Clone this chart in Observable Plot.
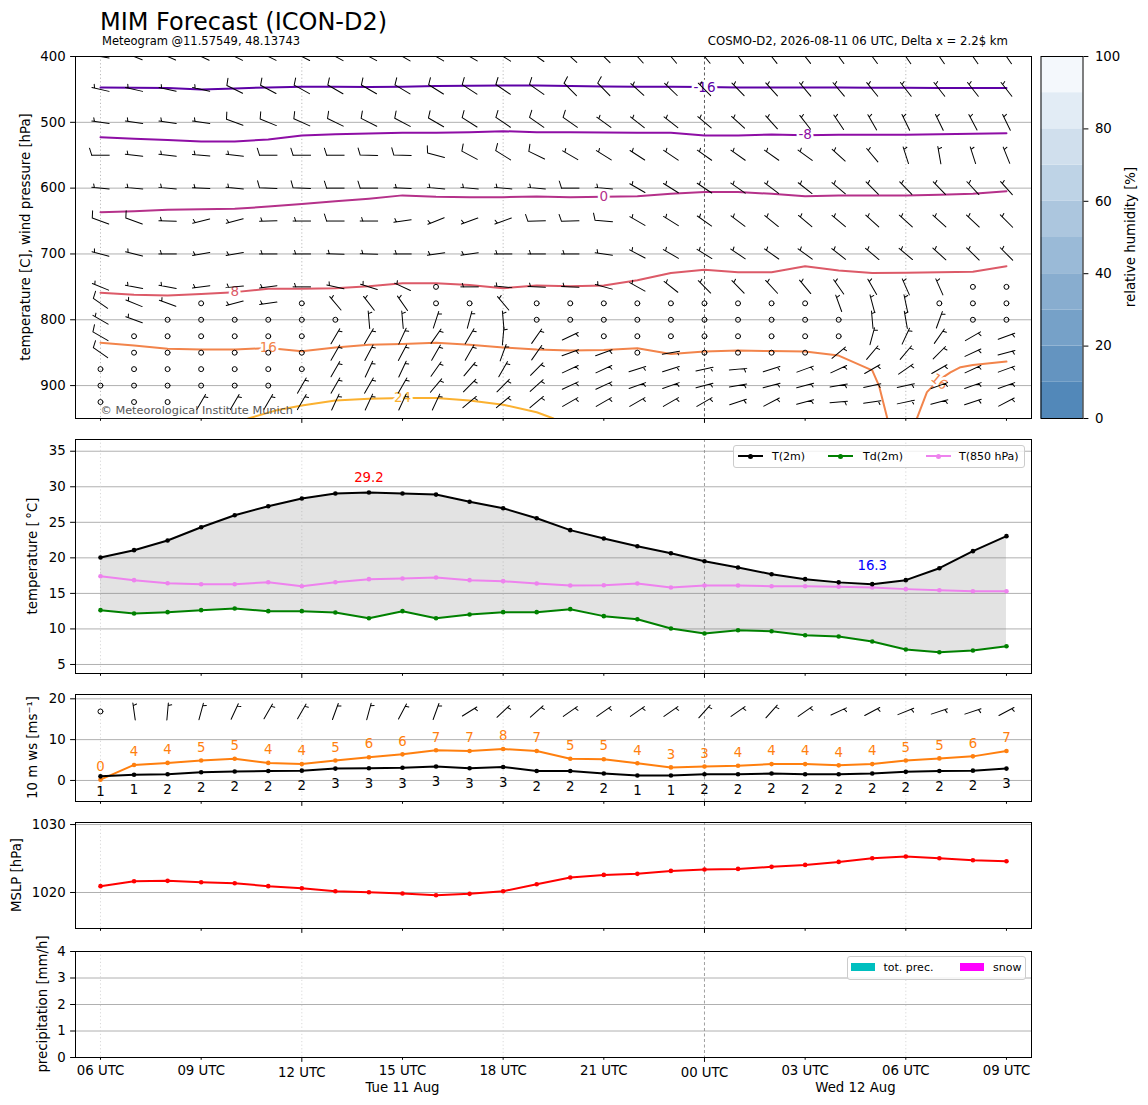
<!DOCTYPE html>
<html>
<head>
<meta charset="utf-8">
<script src="https://cdn.jsdelivr.net/npm/d3@7"></script>
<script src="https://cdn.jsdelivr.net/npm/@observablehq/plot@0.6"></script>
<style>
  body { margin: 0; background: #fff; font-family: "DejaVu Sans", sans-serif; }
  #root { position: relative; width: 1148px; height: 1105px; overflow: hidden; background: #fff; }
  .lg { position: absolute; box-sizing: border-box; border: 1px solid #cccccc; border-radius: 3px; background: rgba(255,255,255,0.8); font-family: "DejaVu Sans", sans-serif; font-size: 11px; color: #000; }
  .lg .ln { position: absolute; height: 2px; width: 25px; }
  .lg .dt { position: absolute; width: 5px; height: 5px; border-radius: 50%; }
  .lg .tx { position: absolute; white-space: nowrap; }
  .lg .pt { position: absolute; width: 24px; height: 8px; }
</style>
</head>
<body>
<div id="root"></div>
<script>
// ---------------- DATA ----------------
const hours = d3.range(28); // hourly steps from Tue 11 Aug 06 UTC
const tickHours = [0, 3, 6, 9, 12, 15, 18, 21, 24, 27];
const tickLabels = ["06 UTC", "09 UTC", "12 UTC", "15 UTC", "18 UTC", "21 UTC", "00 UTC", "03 UTC", "06 UTC", "09 UTC"];
const minorTickHours = [0, 3, 9, 12, 15, 21, 24, 27];
const majorTickHours = [6, 18];
const gridHours = [0, 6, 12, 24];
const midnightHour = [18];
const dateHours = [9, 22.5];
const dateLabels = ["Tue 11 Aug", "Wed 12 Aug"];

// pressure levels of wind barbs [hPa]
const levels = [400, 450, 500, 550, 600, 650, 700, 750, 775, 800, 825, 850, 875, 900, 925];
// wind direction [deg, from] and speed (barb units) per level
const dir400 = [280,292,294,295,296,296,297,298,298,300,300,300,302,305,312,315,318,320,320,322,322,322,324,324,325,325,325,325];
const spd400 = [5,10,10,10,10,10,10,10,10,10,10,10,10,10,10,10,5,5,5,5,5,5,5,5,5,5,5,5];
const dir450 = [283,283,282,282,296,298,299,300,300,301,302,303,304,305,315,316,312,314,315,316,318,320,320,321,322,322,322,322];
const spd450 = [5,5,5,5,10,10,10,10,10,10,10,10,10,10,10,10,5,5,5,5,5,5,5,5,5,5,5,5];
const dir500 = [278,278,278,278,290,292,294,296,297,298,300,302,304,305,305,306,308,308,310,312,318,322,326,330,334,334,332,334];
const spd500 = [5,5,5,5,10,10,10,10,10,10,10,10,10,10,10,5,5,5,5,5,5,5,5,5,5,5,5,5];
const dir550 = [270,276,276,275,276,270,270,270,271,272,285,298,302,296,300,302,303,304,305,305,305,306,312,320,342,350,342,338];
const spd550 = [10,5,5,5,5,10,10,10,10,10,10,10,10,10,5,5,5,5,5,5,5,5,5,5,5,5,5,5];
const dir600 = [276,275,275,272,276,272,272,270,270,272,275,275,275,275,270,275,300,302,304,305,307,308,310,315,316,316,317,318];
const spd600 = [5,5,5,5,5,10,10,10,10,5,5,5,5,5,10,5,5,5,5,5,5,5,5,5,5,5,5,5];
const dir650 = [290,290,272,256,255,268,270,270,270,262,248,250,250,268,268,275,300,302,305,307,309,310,310,312,312,312,313,315];
const spd650 = [10,10,5,5,5,5,5,10,5,5,5,5,5,10,10,10,5,5,5,5,5,5,5,5,5,5,5,5];
const dir700 = [285,284,270,260,260,270,270,272,272,270,262,262,270,270,270,278,298,300,302,304,305,306,308,310,310,312,314,315];
const spd700 = [5,5,5,5,5,5,5,5,5,5,5,5,5,5,5,5,5,5,5,5,5,5,5,5,5,5,5,5];
const dir750 = [292,280,280,262,265,262,270,283,288,295,0,270,275,272,272,285,299,308,315,316,317,320,325,330,336,336,0,0];
const spd750 = [5,5,5,5,5,5,5,5,5,5,0,5,5,5,5,5,5,5,5,5,5,5,5,5,5,5,0,0];
const dir775 = [305,292,290,0,255,262,0,320,322,325,0,0,320,0,0,0,0,0,0,0,0,0,340,345,348,0,0,0];
const spd775 = [10,5,5,0,5,5,0,5,5,5,0,0,5,0,0,0,0,0,0,0,0,0,5,5,5,0,0,0];
const dir800 = [300,290,0,0,0,0,0,0,355,355,18,15,355,0,0,0,0,0,0,0,0,0,0,355,350,20,0,0];
const spd800 = [5,5,0,0,0,0,0,0,5,5,5,5,5,0,0,0,0,0,0,0,0,0,0,5,5,5,0,0];
const dir825 = [300,0,0,0,0,0,0,30,30,25,35,30,5,35,65,0,0,0,0,0,0,0,0,15,25,35,60,70];
const spd825 = [10,0,0,0,0,0,0,5,5,5,5,5,5,5,5,0,0,0,0,0,0,0,0,5,5,5,5,5];
const dir850 = [305,0,0,0,0,0,0,30,28,28,30,30,20,35,70,70,0,80,0,0,0,0,50,40,40,45,65,75];
const spd850 = [10,0,0,0,0,0,0,5,5,5,5,5,5,5,5,5,0,5,0,0,0,0,5,5,5,5,5,5];
const dir875 = [0,0,0,0,0,0,0,30,25,25,35,40,30,45,65,65,72,72,78,85,72,70,65,60,55,60,65,70];
const spd875 = [0,0,0,0,0,0,0,5,5,5,5,5,5,5,5,5,5,5,5,5,5,5,5,5,5,5,5,5];
const dir900 = [0,0,0,0,0,0,30,30,30,30,40,45,45,48,65,65,70,70,75,80,75,75,80,78,78,70,70,70];
const spd900 = [0,0,0,0,0,0,5,5,5,5,5,5,5,5,5,5,5,5,5,5,5,5,5,5,5,5,5,5];
const dir925 = [0,0,0,30,30,30,30,25,25,25,25,50,50,50,60,60,60,60,60,72,62,75,85,82,78,75,72,62];
const spd925 = [0,0,0,5,5,5,5,5,5,5,5,5,5,5,5,5,5,5,5,5,5,5,5,5,5,5,5,5];

// isotherm contour lines [hPa]
const isoLevels = [-16, -8, 0, 8, 16, 24];
const isoColors = ["#5d01a6", "#8e0ea5", "#b5318a", "#dc5a68", "#f2844b", "#fbb130"];
const isoM16 = [447,447.5,448,450,448.5,447,446,446,446.5,446,445,444.5,444,444,445,445.5,446,446,446.5,447,447,447,447,447.5,447.5,448,448,448];
const isoM8 = [522.6,525,527,529,529,526,520,518,517,516,516,515,513.5,515,515,515.5,516,516,520,520,518.6,519.5,519,519,519,518,517.5,516.5];
const iso0 = [636.6,635,633,632,631.5,628,624,620,616,611,613,613.8,613.8,612.8,613.8,613,612.3,608.7,606,606,608.7,612.3,611,611,611,610,608.7,604.6];
const iso8 = [759,762,763,760.7,758,753,753,752,749,744.5,744.5,747,752,748,749,748,740,728.8,724,727.7,727.7,718.7,725,729,728.5,727.7,727,718.7];
const iso16aHours = [0,1,2,3,4,5,6,7,8,9,10,11,12,13,14,15,16,17,18,19,20,21,22,23,23.2,23.45];
const iso16a = [835,839,844,845,845,843,848,842,838,836.7,835,838,842,845,846.8,845.8,843.3,852,848.3,846.8,847.6,848.3,854.4,877,900,950];
const iso16bHours = [24.33, 24.63, 24.97, 25.33, 25.63, 26, 27];
const iso16b = [950, 910, 892, 880, 872, 868.6, 863.5];
const iso24Hours = [4.4, 5.21, 6, 7, 8, 9, 10, 11, 12, 13, 13.5];
const iso24 = [950, 938, 930.4, 922.8, 920, 918.7, 919, 922.8, 929, 940.5, 950];
const isoLabelLevel = [-16, -8, 0, 8, 16, 24, 16];
const isoLabelHour = [18, 21, 15, 4, 5, 9, 25];
const isoLabelP = [447, 519.5, 613, 758, 843, 918.7, 894];
const isoLabelRot = [0, 0, 0, 0, 0, 0, 40];

// relative humidity colour bar
const rhEdges = [0, 10, 20, 30, 40, 50, 60, 70, 80, 90, 100];
const rhTicks = [0, 20, 40, 60, 80, 100];

// 2 m temperature, dew point, 850 hPa temperature [°C]
const t2m = [20.05,21.08,22.44,24.3,26.0,27.26,28.35,29.05,29.19,29.05,28.9,27.9,26.98,25.58,23.9,22.72,21.64,20.65,19.53,18.64,17.7,17.0,16.55,16.3,16.86,18.54,20.94,23.05];
const td2m = [12.64,12.17,12.36,12.64,12.88,12.5,12.5,12.31,11.5,12.5,11.5,12.03,12.36,12.36,12.78,11.8,11.37,10.06,9.36,9.82,9.68,9.12,8.94,8.24,7.1,6.73,6.96,7.57];
const t850 = [17.42,16.86,16.43,16.29,16.29,16.57,16.0,16.57,17.0,17.1,17.24,16.86,16.72,16.39,16.1,16.15,16.39,15.83,16.1,16.1,16.0,16.0,15.95,15.83,15.6,15.45,15.3,15.3];

// 10 m wind: mean, gust [m/s], barbs
const wsMean = [1.0,1.4,1.5,2.0,2.2,2.3,2.4,2.9,3.0,3.1,3.4,3.0,3.3,2.3,2.3,1.7,1.2,1.2,1.5,1.5,1.7,1.5,1.5,1.7,2.1,2.3,2.4,2.9];
const wsGust = [0.2,3.8,4.3,4.9,5.3,4.3,4.0,4.9,5.7,6.4,7.4,7.2,7.7,7.2,5.3,5.2,4.2,3.2,3.4,3.6,4.0,4.0,3.7,4.0,4.9,5.4,5.9,7.2];
const dir10m = [0,352,5,15,25,30,30,20,15,28,20,58,47,48,55,55,55,55,42,55,42,55,65,62,68,72,72,62];
const spd10m = [0,5,5,5,5,5,5,5,5,5,5,5,5,5,5,5,5,5,5,5,5,5,5,5,5,5,5,5];

// mean sea level pressure [hPa]
const mslp = [1020.93,1021.66,1021.71,1021.51,1021.37,1020.93,1020.63,1020.19,1020.04,1019.85,1019.6,1019.8,1020.19,1021.22,1022.2,1022.59,1022.74,1023.18,1023.38,1023.47,1023.77,1024.06,1024.5,1025.04,1025.29,1025.04,1024.75,1024.6];

// precipitation [mm/h]
const totPrec = [0,0,0,0,0,0,0,0,0,0,0,0,0,0,0,0,0,0,0,0,0,0,0,0,0,0,0,0];
const snowPrec = [0,0,0,0,0,0,0,0,0,0,0,0,0,0,0,0,0,0,0,0,0,0,0,0,0,0,0,0];

// ---------------- TABLES ----------------
const dirs = [dir400,dir450,dir500,dir550,dir600,dir650,dir700,dir750,dir775,dir800,dir825,dir850,dir875,dir900,dir925];
const spds = [spd400,spd450,spd500,spd550,spd600,spd650,spd700,spd750,spd775,spd800,spd825,spd850,spd875,spd900,spd925];
const windRows = levels.flatMap((p, li) => hours.map(h => ({h, p, dir: dirs[li][h], spd: spds[li][h]})));
const isoSegments = [
  {level: -16, hs: hours, ps: isoM16},
  {level: -8, hs: hours, ps: isoM8},
  {level: 0, hs: hours, ps: iso0},
  {level: 8, hs: hours, ps: iso8},
  {level: 16, hs: iso16aHours, ps: iso16a},
  {level: 16, hs: iso16bHours, ps: iso16b},
  {level: 24, hs: iso24Hours, ps: iso24}
];
const isoLabels = isoLabelLevel.map((lv, i) => ({level: lv, h: isoLabelHour[i], p: isoLabelP[i], rot: isoLabelRot[i]}));
const tRows = hours.map(h => ({h, t: t2m[h], td: td2m[h], t850: t850[h]}));
const wsRows = hours.map(h => ({h, mean: wsMean[h], gust: wsGust[h], dir: dir10m[h], spd: spd10m[h]}));
const pRows = hours.map(h => ({h, p: mslp[h]}));
const precRows = hours.map(h => ({h, tot: totPrec[h], snow: snowPrec[h]}));
const rhBands = rhEdges.slice(0, -1).map((lo, i) => ({lo, hi: rhEdges[i + 1], mid: (lo + rhEdges[i + 1]) / 2}));

// ---------------- HELPERS ----------------
const FONT = "DejaVu Sans, sans-serif";
const FS = 13.3;
const X_DOMAIN = [-0.745, 27.746];
const BARB_Y = 16.9;
const ORANGE = "#ff7f0e";
const root = document.getElementById("root");
const colorOf = lv => isoColors[isoLevels.indexOf(lv)];
const plain = d => String(d);

function barbShape(S, F, T, SP, R) {
  return {
    draw(ctx, l) {
      if (l < 2.5) { ctx.moveTo(R, 0); ctx.arc(0, 0, R, 0, 2 * Math.PI); return; }
      const v = Math.round(l / 5) * 5;
      const nFull = Math.floor(v / 10);
      const half = v - nFull * 10 >= 5;
      ctx.moveTo(0, S / 2); ctx.lineTo(0, -S / 2);
      let y = -S / 2;
      for (let i = 0; i < nFull; i++) { ctx.moveTo(0, y); ctx.lineTo(F, y - T); y += SP; }
      if (half) { if (nFull === 0) y += SP; ctx.moveTo(0, y); ctx.lineTo(F / 2, y - T / 2); }
    }
  };
}

function xAxes(withLabels) {
  const fmt = withLabels ? (h => tickLabels[tickHours.indexOf(h)]) : (() => "");
  return [
    Plot.axisX({ticks: minorTickHours, tickSize: 2.8, tickPadding: 5.5, tickFormat: fmt, label: null}),
    Plot.axisX({ticks: majorTickHours, tickSize: 4.9, tickPadding: 5.5, tickFormat: fmt, label: null})
  ];
}
function vRules(light, mid) {
  return [
    Plot.ruleX(gridHours, {stroke: light, strokeDasharray: "1.2,2.4", strokeWidth: 0.8}),
    Plot.ruleX(midnightHour, {stroke: mid, strokeDasharray: "3,2.5", strokeWidth: 0.8})
  ];
}
function yAxis(ticks) {
  return Plot.axisY({ticks, tickSize: 4.9, tickPadding: 4.9, tickFormat: plain, label: null});
}
function addPanel(top, h, mt, mb, yOpts, marks, extra = {}) {
  const svg = Plot.plot({
    width: 1148, height: h + mt + mb,
    marginLeft: 75, marginRight: 117, marginTop: mt, marginBottom: mb,
    x: {domain: X_DOMAIN},
    y: yOpts,
    style: {fontFamily: FONT, fontSize: FS + "px", background: "transparent", overflow: "visible", color: "black"},
    marks,
    ...extra
  });
  Object.assign(svg.style, {position: "absolute", left: "0px", top: (top - mt) + "px"});
  root.appendChild(svg);
}

// ---------------- PANEL 1: upper air ----------------
addPanel(56, 362, 10, 12, {domain: [950, 400]}, [
  Plot.ruleY([500, 600, 700, 800, 900], {stroke: "#b0b0b0", strokeWidth: 1}),
  ...vRules("#a8a8a8", "#333333"),
  ...isoSegments.map(s => Plot.line(s.hs.map((hh, i) => ({h: hh, p: s.ps[i]})), {x: "h", y: "p", stroke: colorOf(s.level), strokeWidth: 2, clip: true})),
  ...isoLabels.map(l => Plot.text([l], {x: "h", y: "p", text: d => String(d.level), rotate: l.rot, fill: colorOf(l.level), stroke: "white", strokeWidth: 5, paintOrder: "stroke", fontSize: 13.5})),
  Plot.vector(windRows, {x: "h", y: "p", rotate: "dir", length: "spd", anchor: "start", shape: barbShape(17.5, 7, 2.2, 2.6, 2.5), stroke: "black", strokeWidth: 1, clip: true}),
  Plot.text(["© Meteorological Institute Munich"], {text: d => d, frameAnchor: "bottom-left", dx: 25, dy: -8.5, lineAnchor: "middle", textAnchor: "start", fill: "#555", fontSize: 11.3}),
  yAxis([400, 500, 600, 700, 800, 900]),
  ...xAxes(false),
  Plot.frame({stroke: "black", strokeWidth: 1})
], {length: {type: "identity"}});

// colour bar
(function () {
  const svg = Plot.plot({
    width: 1148, height: 362 + 20,
    marginLeft: 1040.5, marginRight: 65.5, marginTop: 10, marginBottom: 10,
    y: {domain: [0, 100]},
    color: {type: "linear", domain: [5, 95], range: ["#5288b9", "#f4f8fc"]},
    style: {fontFamily: FONT, fontSize: FS + "px", background: "transparent", overflow: "visible", color: "black"},
    marks: [
      Plot.rect(rhBands, {y1: "lo", y2: "hi", fill: "mid"}),
      Plot.axisY({anchor: "right", ticks: rhTicks, tickSize: 4.9, tickPadding: 7, tickFormat: plain, label: null}),
      Plot.frame({stroke: "black", strokeWidth: 1})
    ]
  });
  Object.assign(svg.style, {position: "absolute", left: "0px", top: (56 - 10) + "px"});
  root.appendChild(svg);
})();

// ---------------- PANEL 2: temperatures ----------------
const tMax = d3.greatest(tRows, d => d.t);
const tMin = d3.least(tRows, d => d.t);
addPanel(439, 234, 10, 10, {domain: [3.73, 36.65]}, [
  Plot.ruleY([5, 10, 15, 20, 25, 30, 35], {stroke: "#b0b0b0", strokeWidth: 1}),
  ...vRules("#cfcfcf", "#888888"),
  Plot.areaY(tRows, {x: "h", y1: "td", y2: "t", fill: "#808080", fillOpacity: 0.22}),
  Plot.line(tRows, {x: "h", y: "t850", stroke: "violet", strokeWidth: 2}),
  Plot.dot(tRows, {x: "h", y: "t850", r: 2.3, fill: "violet"}),
  Plot.line(tRows, {x: "h", y: "td", stroke: "green", strokeWidth: 2}),
  Plot.dot(tRows, {x: "h", y: "td", r: 2.3, fill: "green"}),
  Plot.line(tRows, {x: "h", y: "t", stroke: "black", strokeWidth: 2}),
  Plot.dot(tRows, {x: "h", y: "t", r: 2.3, fill: "black"}),
  Plot.text([tMax], {x: "h", y: "t", text: d => d.t.toFixed(1), fill: "red", dy: -15, fontSize: FS}),
  Plot.text([tMin], {x: "h", y: "t", text: d => d.t.toFixed(1), fill: "blue", dy: -18, fontSize: FS}),
  yAxis([5, 10, 15, 20, 25, 30, 35]),
  ...xAxes(false),
  Plot.frame({stroke: "black", strokeWidth: 1})
]);

// ---------------- PANEL 3: 10 m wind ----------------
addPanel(694, 107, 10, 10, {domain: [-5.16, 21.06]}, [
  Plot.ruleY([0, 10, 20], {stroke: "#b0b0b0", strokeWidth: 1}),
  ...vRules("#cfcfcf", "#888888"),
  Plot.line(wsRows, {x: "h", y: "gust", stroke: ORANGE, strokeWidth: 2}),
  Plot.dot(wsRows, {x: "h", y: "gust", r: 2.3, fill: ORANGE}),
  Plot.line(wsRows, {x: "h", y: "mean", stroke: "black", strokeWidth: 2}),
  Plot.dot(wsRows, {x: "h", y: "mean", r: 2.3, fill: "black"}),
  Plot.text(wsRows, {x: "h", y: "gust", text: d => String(Math.round(d.gust)), dy: -13, fill: ORANGE, fontSize: FS}),
  Plot.text(wsRows, {x: "h", y: "mean", text: d => String(Math.round(d.mean)), dy: 15.5, fill: "black", fontSize: FS}),
  Plot.vector(wsRows, {x: "h", y: () => BARB_Y, rotate: "dir", length: "spd", anchor: "start", shape: barbShape(17, 7, 2.2, 2.6, 2.5), stroke: "black", strokeWidth: 1}),
  yAxis([0, 10, 20]),
  ...xAxes(false),
  Plot.frame({stroke: "black", strokeWidth: 1})
], {length: {type: "identity"}});

// ---------------- PANEL 4: MSLP ----------------
addPanel(822, 106, 10, 10, {domain: [1014.7, 1030.3]}, [
  Plot.ruleY([1020, 1030], {stroke: "#b0b0b0", strokeWidth: 1}),
  ...vRules("#cfcfcf", "#888888"),
  Plot.line(pRows, {x: "h", y: "p", stroke: "red", strokeWidth: 2}),
  Plot.dot(pRows, {x: "h", y: "p", r: 2.3, fill: "red"}),
  yAxis([1020, 1030]),
  ...xAxes(false),
  Plot.frame({stroke: "black", strokeWidth: 1})
]);

// ---------------- PANEL 5: precipitation ----------------
addPanel(951, 106, 10, 48, {domain: [0, 4]}, [
  Plot.ruleY([1, 2, 3], {stroke: "#b0b0b0", strokeWidth: 1}),
  ...vRules("#cfcfcf", "#888888"),
  Plot.rectY(precRows, {x1: d => d.h - 0.4, x2: d => d.h + 0.4, y1: 0, y2: "tot", fill: "#00bfbf"}),
  Plot.rectY(precRows, {x1: d => d.h - 0.4, x2: d => d.h + 0.4, y1: 0, y2: "snow", fill: "#ff00ff"}),
  yAxis([0, 1, 2, 3, 4]),
  ...xAxes(true),
  Plot.text(dateHours.map((h, i) => ({h, label: dateLabels[i]})), {x: "h", text: "label", frameAnchor: "bottom", dy: 30, lineAnchor: "middle", fontSize: FS}),
  Plot.frame({stroke: "black", strokeWidth: 1})
]);

// ---------------- LEGENDS ----------------
function addLegend(html, left, top, w, h) {
  const d = document.createElement("div");
  d.className = "lg";
  Object.assign(d.style, {left: left + "px", top: top + "px", width: w + "px", height: h + "px"});
  d.innerHTML = html;
  root.appendChild(d);
}
const tLegend = [["black", "T(2m)", 4, 38], ["green", "Td(2m)", 94, 129], ["violet", "T(850 hPa)", 192, 225]];
addLegend(tLegend.map(([c, t, sx, tx]) =>
  `<div class="ln" style="left:${sx}px;top:9px;background:${c}"></div>` +
  `<div class="dt" style="left:${sx + 10}px;top:7.5px;background:${c}"></div>` +
  `<div class="tx" style="left:${tx}px;top:0;line-height:21px">${t}</div>`).join(""), 733, 445, 292, 23);
const pLegend = [["#00bfbf", "tot. prec.", 3, 35.5], ["#ff00ff", "snow", 111.6, 145]];
addLegend(pLegend.map(([c, t, sx, tx]) =>
  `<div class="pt" style="left:${sx}px;top:6px;background:${c}"></div>` +
  `<div class="tx" style="left:${tx}px;top:0;line-height:21px">${t}</div>`).join(""), 847, 956, 179, 24);

// ---------------- TEXT OVERLAY ----------------
const yTitles = [
  ["temperature [C], wind pressure [hPa]", 25, 237],
  ["temperature [\u2009°C]", 32, 556],
  ["10 m ws [ms⁻¹]", 32, 747.5],
  ["MSLP [hPa]", 16, 875],
  ["precipitation [mm/h]", 42, 1004],
  ["relative humidity [%]", 1130, 237]
];
const ov = document.createElementNS("http://www.w3.org/2000/svg", "svg");
ov.setAttribute("width", 1148); ov.setAttribute("height", 1105);
Object.assign(ov.style, {position: "absolute", left: "0px", top: "0px", fontFamily: FONT, pointerEvents: "none"});
ov.innerHTML =
  `<text x="100" y="29.5" font-size="24">MIM Forecast (ICON-D2)</text>` +
  `<text x="102" y="45" font-size="11.5">Meteogram @11.57549, 48.13743</text>` +
  `<text x="1008" y="44.5" font-size="11.7" text-anchor="end">COSMO-D2, 2026-08-11 06 UTC, Delta x = 2.2$ km</text>` +
  yTitles.map(([t, x, y]) => `<text transform="translate(${x},${y}) rotate(-90)" text-anchor="middle" dominant-baseline="central" font-size="${FS}">${t}</text>`).join("");
root.appendChild(ov);
</script>
</body>
</html>
